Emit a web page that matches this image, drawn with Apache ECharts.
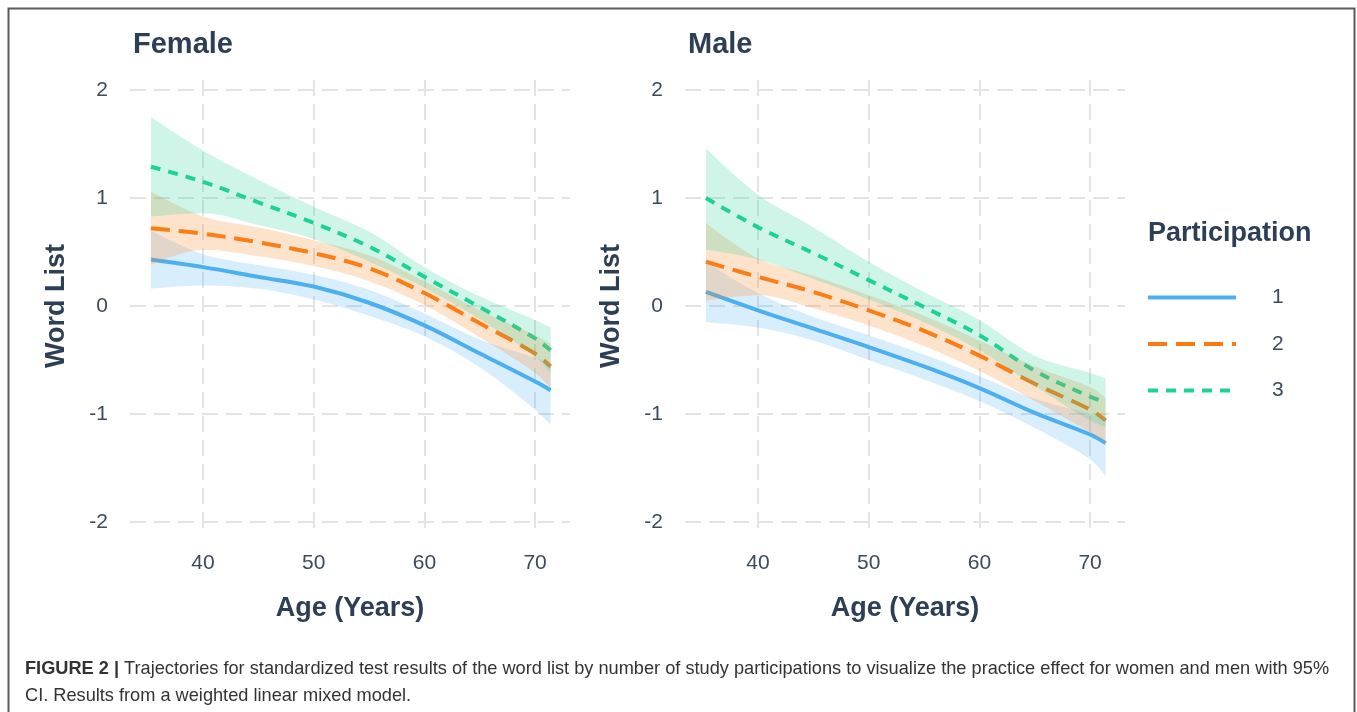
<!DOCTYPE html>
<html>
<head>
<meta charset="utf-8">
<script src="https://cdn.jsdelivr.net/npm/echarts@6/dist/echarts.min.js"></script>
<style>
html,body{margin:0;padding:0;background:#fff;}
#c{width:1357px;height:712px;}
</style>
</head>
<body>
<div id="c"></div>
<script>
// ---- data ----
const ages = [35.3, 40, 45, 50, 55, 60, 65, 70, 71.4];
const xTicks = [40, 50, 60, 70];
const yTicks = [-2, -1, 0, 1, 2];
const groups = ['1', '2', '3'];

// Female
const f1   = [0.43, 0.36, 0.27, 0.18, 0.03, -0.18, -0.44, -0.70, -0.78];
const f1Lo = [0.16, 0.19, 0.16, 0.06, -0.09, -0.28, -0.57, -0.96, -1.10];
const f1Hi = [0.70, 0.48, 0.38, 0.29, 0.15, -0.07, -0.31, -0.48, -0.54];
const f2   = [0.72, 0.67, 0.59, 0.49, 0.35, 0.12, -0.16, -0.44, -0.56];
const f2Lo = [0.38, 0.52, 0.46, 0.37, 0.23, 0.01, -0.29, -0.62, -0.76];
const f2Hi = [1.06, 0.83, 0.73, 0.61, 0.47, 0.23, -0.04, -0.27, -0.35];
const f3   = [1.29, 1.15, 0.96, 0.77, 0.55, 0.27, -0.01, -0.30, -0.41];
const f3Lo = [0.83, 0.86, 0.75, 0.62, 0.41, 0.17, -0.12, -0.47, -0.62];
const f3Hi = [1.75, 1.44, 1.17, 0.92, 0.69, 0.36, 0.09, -0.13, -0.20];

// Male
const m1   = [0.13, -0.04, -0.21, -0.38, -0.56, -0.76, -0.99, -1.19, -1.27];
const m1Lo = [-0.15, -0.20, -0.32, -0.50, -0.68, -0.88, -1.13, -1.42, -1.58];
const m1Hi = [0.41, 0.12, -0.10, -0.27, -0.45, -0.65, -0.86, -1.00, -1.05];
const m2   = [0.41, 0.27, 0.13, -0.04, -0.23, -0.46, -0.72, -0.96, -1.06];
const m2Lo = [0.05, 0.10, -0.02, -0.18, -0.37, -0.60, -0.88, -1.17, -1.27];
const m2Hi = [0.77, 0.44, 0.28, 0.10, -0.09, -0.32, -0.56, -0.75, -0.85];
const m3   = [1.00, 0.73, 0.49, 0.24, -0.01, -0.27, -0.60, -0.84, -0.89];
const m3Lo = [0.52, 0.43, 0.25, 0.06, -0.15, -0.41, -0.74, -1.06, -1.12];
const m3Hi = [1.46, 1.03, 0.73, 0.41, 0.13, -0.13, -0.46, -0.62, -0.67];

// ---- styles ----
const lineColors = ['#4DAFF0', '#FA7A0F', '#1ED296'];
const bandColors = ['rgba(77,175,240,0.21)', 'rgba(250,140,40,0.24)', 'rgba(30,210,150,0.22)'];
const dashTypes = ['solid', [19, 9], [10, 8]];
const titleColor = '#2D3F55';
const tickColor = '#3B4A5C';
const gridColor = '#E4E4E4';
const FONT = 'Liberation Sans, Arial, sans-serif';

function pairs(xs, ys) { return xs.map((x, i) => [x, ys[i]]); }
// rows as [value, age] so that the stacked dimension is the value (y) dimension
function rowsVY(xs, ys) { return xs.map((x, i) => [ys[i], x]); }
function diff(hi, lo) { return hi.map((v, i) => +(v - lo[i]).toFixed(4)); }

const panels = [
  { mid: [f1, f2, f3], lo: [f1Lo, f2Lo, f3Lo], hi: [f1Hi, f2Hi, f3Hi] },
  { mid: [m1, m2, m3], lo: [m1Lo, m2Lo, m3Lo], hi: [m1Hi, m2Hi, m3Hi] }
];

const SM = 0.35;
const series = [];
panels.forEach((p, pi) => {
  // lines first (bands drawn over them, as in the reference)
  groups.forEach((g, gi) => {
    series.push({
      name: g, type: 'line', xAxisIndex: pi, yAxisIndex: pi,
      data: pairs(ages, p.mid[gi]), smooth: SM, symbol: 'none',
      lineStyle: { color: lineColors[gi], width: 4, type: dashTypes[gi], cap: 'butt' },
      itemStyle: { color: lineColors[gi] },
      z: 2, silent: true
    });
  });
  groups.forEach((g, gi) => {
    const st = 'band' + pi + '_' + gi;
    series.push({
      name: 'lo' + pi + gi, type: 'line', xAxisIndex: pi, yAxisIndex: pi,
      stack: st, stackStrategy: 'all',
      data: rowsVY(ages, p.lo[gi]), encode: { x: 1, y: 0 }, smooth: SM, symbol: 'none',
      lineStyle: { opacity: 0, width: 0 }, z: 3, silent: true
    });
    series.push({
      name: 'hi' + pi + gi, type: 'line', xAxisIndex: pi, yAxisIndex: pi,
      stack: st, stackStrategy: 'all',
      data: rowsVY(ages, diff(p.hi[gi], p.lo[gi])), encode: { x: 1, y: 0 }, smooth: SM, symbol: 'none',
      lineStyle: { opacity: 0, width: 0 }, areaStyle: { color: bandColors[gi], opacity: 1 },
      z: 3, silent: true
    });
  });
});

function xAxisCfg(gi) {
  return {
    type: 'value', gridIndex: gi, min: 33.41, max: 73.15,
    name: 'Age (Years)', nameLocation: 'middle', nameGap: 63,
    nameTextStyle: { fontSize: 27, fontWeight: 'bold', color: titleColor, fontFamily: FONT },
    axisLine: { show: false },
    axisTick: { show: false, customValues: xTicks },
    axisLabel: { customValues: xTicks, fontSize: 21, color: tickColor, margin: 21, fontFamily: FONT },
    splitLine: { show: true, lineStyle: { color: gridColor, width: 2, type: [16, 8] } }
  };
}
function yAxisCfg(gi) {
  return {
    type: 'value', gridIndex: gi, min: -2.093, max: 2.093,
    name: 'Word List', nameLocation: 'middle', nameGap: 60, nameRotate: 90,
    nameTextStyle: { fontSize: 27, fontWeight: 'bold', color: titleColor, fontFamily: FONT },
    axisLine: { show: false },
    axisTick: { show: false, customValues: yTicks },
    axisLabel: { customValues: yTicks, fontSize: 21, color: tickColor, margin: 22, fontFamily: FONT },
    splitLine: { show: true, lineStyle: { color: gridColor, width: 2, type: [16, 8] } }
  };
}

const option = {
  animation: false,
  backgroundColor: '#fff',
  textStyle: { fontFamily: FONT },
  title: [
    { text: 'Female', left: 128, top: 25, textStyle: { fontSize: 29, fontWeight: 'bold', color: titleColor, fontFamily: FONT } },
    { text: 'Male', left: 683, top: 25, textStyle: { fontSize: 29, fontWeight: 'bold', color: titleColor, fontFamily: FONT } }
  ],
  grid: [
    { left: 130, top: 80, width: 440, height: 452 },
    { left: 685, top: 80, width: 440, height: 452 }
  ],
  xAxis: [xAxisCfg(0), xAxisCfg(1)],
  yAxis: [yAxisCfg(0), yAxisCfg(1)],
  legend: {
    data: groups, orient: 'vertical', left: 1146, top: 287, padding: 0,
    itemWidth: 88, itemHeight: 24, itemGap: 25.5,
    itemStyle: { opacity: 0 },
    lineStyle: { width: 4 },
    textStyle: { fontSize: 21, color: tickColor, fontFamily: FONT, padding: [0, 0, 0, 31] },
    selectedMode: false
  },
  graphic: [
    { type: 'text', left: 1148, top: 220,
      style: { text: 'Participation', fontSize: 27, fontWeight: 'bold', fill: titleColor, fontFamily: FONT } },
    { type: 'rect', shape: { x: 8.5, y: 8.5, width: 1346, height: 740 },
      style: { fill: 'none', stroke: '#5a5a5a', lineWidth: 2 }, silent: true },
    { type: 'text', left: 25, top: 655,
      style: {
        text: '{b|FIGURE 2 |} Trajectories for standardized test results of the word list by number of study participations to visualize the practice effect for women and men with 95%\nCI. Results from a weighted linear mixed model.',
        fontSize: 18.2, fill: '#333', fontFamily: FONT, lineHeight: 27,
        rich: { b: { fontWeight: 'bold', fontSize: 18.2, fill: '#333', fontFamily: FONT } }
      } }
  ],
  series: series
};

const chart = echarts.init(document.getElementById('c'), null, { renderer: 'canvas' });
chart.setOption(option);
</script>
</body>
</html>
